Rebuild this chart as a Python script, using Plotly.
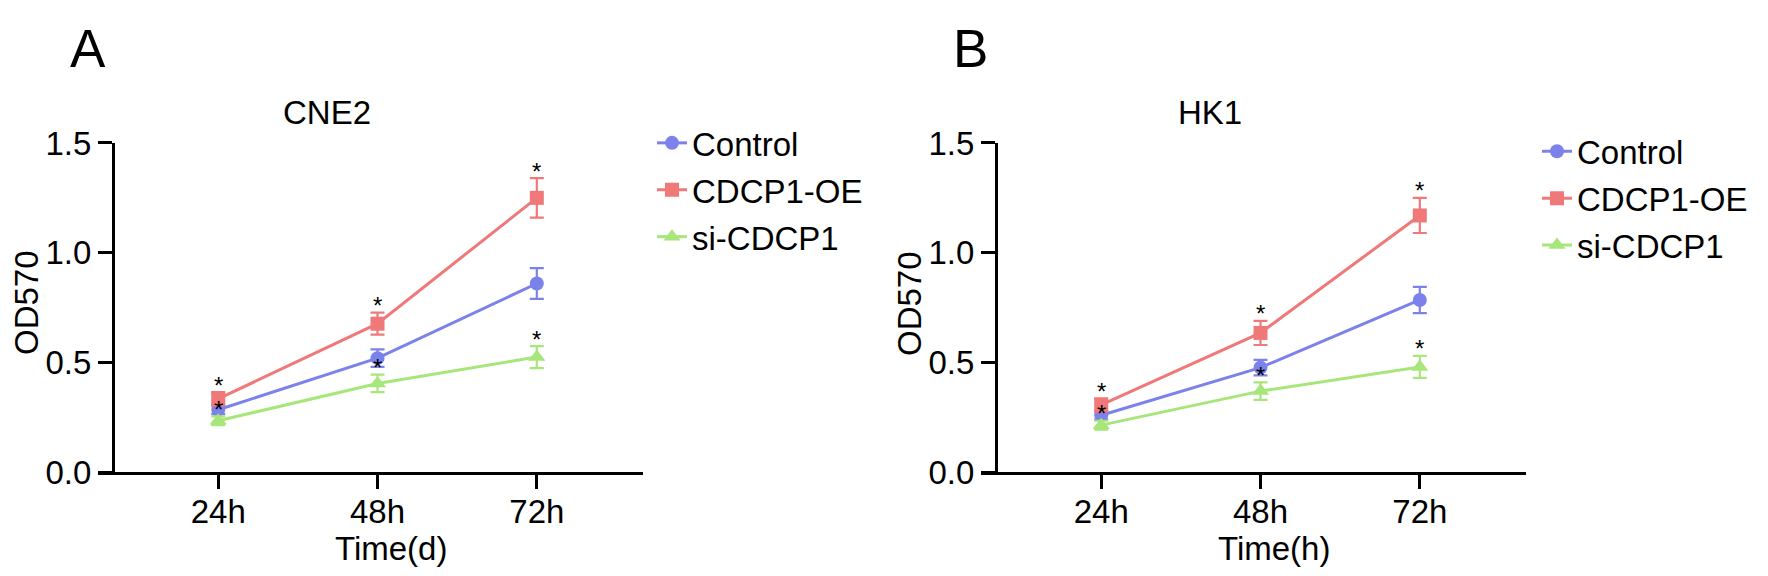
import plotly.graph_objects as go

W, H = 1768, 576

time_labels = ["24h", "48h", "72h"]
series_names = ["Control", "CDCP1-OE", "si-CDCP1"]

# Panel A: CNE2
cne2_mean = {
    "Control": [0.285, 0.52, 0.86],
    "CDCP1-OE": [0.335, 0.677, 1.25],
    "si-CDCP1": [0.235, 0.405, 0.525],
}
cne2_err = {
    "Control": [0.02, 0.04, 0.07],
    "CDCP1-OE": [0.03, 0.05, 0.09],
    "si-CDCP1": [0.02, 0.04, 0.05],
}
# Panel B: HK1
hk1_mean = {
    "Control": [0.26, 0.477, 0.785],
    "CDCP1-OE": [0.307, 0.635, 1.17],
    "si-CDCP1": [0.215, 0.37, 0.48],
}
hk1_err = {
    "Control": [0.02, 0.035, 0.06],
    "CDCP1-OE": [0.03, 0.055, 0.08],
    "si-CDCP1": [0.02, 0.04, 0.05],
}
# significance markers (asterisks) per series and time point
sig = {
    "Control": [False, False, False],
    "CDCP1-OE": [True, True, True],
    "si-CDCP1": [True, True, True],
}

colors = {"Control": "#7B83EB", "CDCP1-OE": "#F07878", "si-CDCP1": "#A7E67A"}
symbols = {"Control": "circle", "CDCP1-OE": "square", "si-CDCP1": "triangle-up"}
msize = {"Control": 14, "CDCP1-OE": 14, "si-CDCP1": 15}

FONT = "Arial, 'Liberation Sans', sans-serif"
FS = 33

fig = go.Figure()

def px_x(p):
    return p / W

def px_y(p):
    return 1 - p / H

panels = [
    dict(mean=cne2_mean, err=cne2_err, xa="x", ya="y", legend="legend",
         yaxis_px=105, title="CNE2", xtitle="Time(d)", letter="A"),
    dict(mean=hk1_mean, err=hk1_err, xa="x2", ya="y2", legend="legend2",
         yaxis_px=988, title="HK1", xtitle="Time(h)", letter="B"),
]

annotations = []
for i, p in enumerate(panels):
    for gi, name in enumerate(series_names):
        fig.add_trace(go.Scatter(
            x=list(range(len(time_labels))), y=p["mean"][name],
            mode="lines+markers", name=name,
            line=dict(color=colors[name], width=3),
            marker=dict(symbol=symbols[name], size=msize[name], color=colors[name]),
            error_y=dict(type="data", array=p["err"][name], color=colors[name],
                         thickness=2.2, width=7),
            xaxis=p["xa"], yaxis=p["ya"], legend=p["legend"],
            legendgroup=f"{p['legend']}_{name}",
            cliponaxis=False,
        ))
        for k in range(len(time_labels)):
            if sig[name][k]:
                annotations.append(dict(
                    x=k, y=p["mean"][name][k] + p["err"][name][k],
                    xref=p["xa"], yref=p["ya"], text="*", showarrow=False,
                    yanchor="middle", yshift=7,
                    font=dict(family=FONT, size=24, color="black"),
                ))
    annotations.append(dict(x=px_x(p["yaxis_px"] + 214), y=px_y(92), xref="paper", yref="paper",
                            text=p["title"], showarrow=False, xanchor="center", yanchor="middle",
                            font=dict(family=FONT, size=FS, color="black")))
    annotations.append(dict(x=px_x(p["yaxis_px"] + 278), y=px_y(558), xref="paper", yref="paper",
                            text=p["xtitle"], showarrow=False, xanchor="center", yanchor="middle",
                            font=dict(family=FONT, size=FS, color="black")))
    annotations.append(dict(x=px_x(p["yaxis_px"] - 86), y=px_y(296), xref="paper", yref="paper",
                            text="OD570", showarrow=False, textangle=-90,
                            xanchor="center", yanchor="middle",
                            font=dict(family=FONT, size=FS, color="black")))
    annotations.append(dict(x=px_x(p["yaxis_px"] - 25), y=px_y(24), xref="paper", yref="paper",
                            text=p["letter"], showarrow=False, xanchor="center", yanchor="middle",
                            font=dict(family=FONT, size=53, color="black")))

ydom = [px_y(477), px_y(125)]
xrange = [-120 / 159, 2 + 106 / 159]

axis_common = dict(showgrid=False, zeroline=False, showline=True, linecolor="black",
                   linewidth=3, ticks="outside", ticklen=14, tickwidth=3, tickcolor="black",
                   tickfont=dict(family=FONT, size=FS, color="black"))

layout = dict(
    width=W, height=H, plot_bgcolor="white", paper_bgcolor="white",
    margin=dict(l=0, r=0, t=0, b=0),
    showlegend=True,
    annotations=annotations,
    xaxis=dict(domain=[px_x(90), px_x(635)], range=xrange, anchor="y", ticklabelstandoff=-6,
               tickmode="array", tickvals=[0, 1, 2], ticktext=time_labels, **axis_common),
    yaxis=dict(domain=ydom, range=[0, 1.5], anchor="free", position=px_x(105),
               tickmode="array", tickvals=[0, 0.5, 1.0, 1.5],
               ticktext=["0.0", "0.5", "1.0", "1.5"], **axis_common),
    xaxis2=dict(domain=[px_x(973), px_x(1518)], range=xrange, anchor="y2", ticklabelstandoff=-6,
                tickmode="array", tickvals=[0, 1, 2], ticktext=time_labels, **axis_common),
    yaxis2=dict(domain=ydom, range=[0, 1.5], anchor="free", position=px_x(988),
                tickmode="array", tickvals=[0, 0.5, 1.0, 1.5],
                ticktext=["0.0", "0.5", "1.0", "1.5"], **axis_common),
    legend=dict(x=px_x(644), y=px_y(95), xanchor="left", yanchor="top",
                font=dict(family=FONT, size=FS, color="black"),
                bgcolor="rgba(0,0,0,0)", tracegroupgap=1, traceorder="grouped"),
    legend2=dict(x=px_x(1529), y=px_y(104), xanchor="left", yanchor="top",
                 font=dict(family=FONT, size=FS, color="black"),
                 bgcolor="rgba(0,0,0,0)", tracegroupgap=1, traceorder="grouped"),
)
fig.update_layout(**layout)
fig.write_html("out.html")
